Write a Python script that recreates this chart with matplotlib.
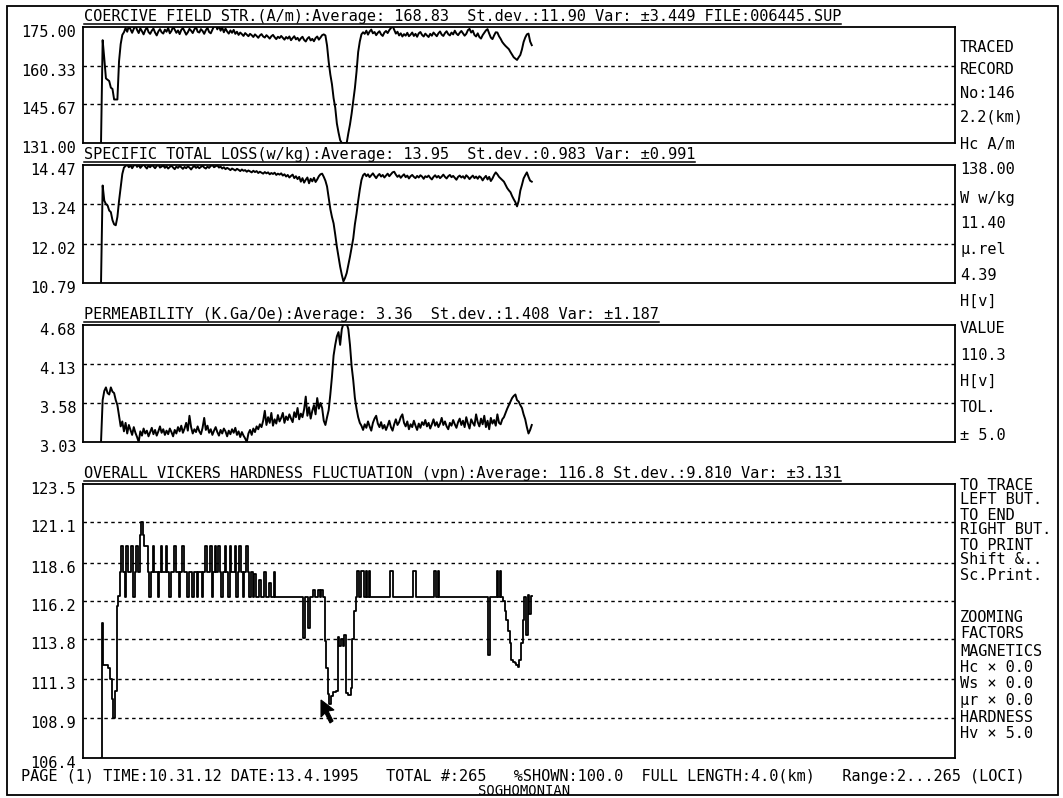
import matplotlib
matplotlib.use("Agg")
import matplotlib.pyplot as plt
from matplotlib.patches import Polygon, Rectangle
from matplotlib.lines import Line2D
from matplotlib.transforms import ScaledTranslation
import numpy as np

W, H = 1063, 798
FONT = "DejaVu Sans Mono"
FIRST_LOCUS = 2

# one value per locus, loci 2..265
coercive = [
    131.0, 170.0, 163.0, 155.5, 155.0, 154.5, 152.0, 151.5, 147.5, 147.5,
    147.5, 162.0, 168.5, 172.0, 173.0, 174.6, 173.2, 175.4, 174.1, 172.8,
    174.3, 175.6, 173.9, 172.7, 174.5, 173.4, 172.2, 173.8, 174.9, 173.1,
    172.4, 173.6, 174.4, 172.9, 171.8, 173.3, 174.2, 173.0, 172.5, 174.0,
    173.2, 174.7, 172.6, 173.5, 175.1, 174.0, 172.8, 173.7, 172.3, 173.9,
    174.6, 173.4, 172.1, 173.0, 174.3, 173.6, 172.7, 174.1, 175.0, 173.2,
    172.9, 174.2, 173.5, 172.4, 173.8, 174.7, 173.1, 172.6, 174.0, 175.3,
    175.8, 174.1, 175.5, 173.6, 174.8, 173.0, 174.4, 173.3, 172.5, 173.7,
    172.8, 173.9, 172.4, 173.2, 172.0, 172.9, 172.3, 171.6, 172.7, 172.1,
    171.5, 172.4, 171.9, 171.2, 172.2, 171.6, 170.9, 171.8, 172.3, 171.4,
    171.0, 171.9, 171.3, 170.6, 171.5, 172.0, 171.1, 170.4, 171.3, 170.8,
    171.6, 170.9, 170.2, 171.2, 170.6, 171.4, 170.0, 170.8, 171.5, 170.3,
    170.9, 169.8, 170.7, 171.3, 170.1, 169.5, 170.6, 171.2, 169.9, 170.5,
    169.6, 170.8, 171.4, 170.2, 171.0, 171.9, 172.2, 171.8, 168.0, 161.8,
    157.0, 153.3, 148.0, 144.4, 138.4, 135.0, 132.1, 131.0, 131.0, 131.0,
    131.0, 134.7, 138.0, 142.1, 147.0, 151.8, 158.0, 165.5, 169.5, 172.2,
    173.0, 172.4, 173.6, 172.1, 173.3, 174.0, 172.6, 173.1, 171.9, 172.8,
    173.4, 172.2, 171.6, 172.9, 173.5, 172.7, 173.8, 174.6, 175.4, 173.9,
    172.5, 173.2, 171.8, 172.6, 171.4, 172.3, 171.7, 172.8, 171.5, 172.1,
    172.9, 171.6, 172.4, 171.3, 172.6, 173.1, 172.0, 171.4, 172.5, 171.8,
    171.2, 172.4, 171.7, 172.9, 172.2, 171.5, 172.6, 173.3, 172.1, 171.6,
    172.7, 173.4, 172.3, 171.8, 172.9, 172.2, 173.6, 172.5, 171.9, 172.8,
    173.5, 172.6, 171.7, 172.4, 173.8, 174.3, 172.9, 173.6, 172.0, 171.4,
    172.6, 171.2, 170.6, 171.9, 172.8, 173.7, 174.2, 172.5, 171.0, 170.4,
    171.8, 173.0, 172.9, 171.5, 170.5, 169.3, 168.5, 167.8, 167.2, 166.6,
    165.5, 164.5, 163.5, 163.0, 162.5, 163.5, 164.4, 166.5, 169.3, 171.0,
    172.2, 172.5, 169.5, 168.1,
]

total_loss = [
    10.79, 13.83, 13.36, 13.25, 13.21, 13.05, 13.00, 12.75, 12.62, 12.59,
    12.85, 13.35, 13.77, 14.19, 14.39, 14.44, 14.48, 14.40, 14.46, 14.37,
    14.45, 14.50, 14.41, 14.47, 14.38, 14.44, 14.49, 14.42, 14.36, 14.45,
    14.40, 14.47, 14.43, 14.37, 14.44, 14.48, 14.39, 14.42, 14.46, 14.38,
    14.43, 14.36, 14.41, 14.45, 14.39, 14.34, 14.42, 14.38, 14.44, 14.40,
    14.35, 14.41, 14.37, 14.43, 14.39, 14.33, 14.40, 14.44, 14.38, 14.42,
    14.37, 14.41, 14.45, 14.39, 14.36, 14.42, 14.38, 14.44, 14.47, 14.40,
    14.43, 14.46, 14.39, 14.42, 14.36, 14.40, 14.34, 14.38, 14.35, 14.31,
    14.36, 14.33, 14.30, 14.35, 14.32, 14.28, 14.33, 14.29, 14.31, 14.26,
    14.30, 14.27, 14.24, 14.29, 14.25, 14.28, 14.22, 14.26, 14.23, 14.20,
    14.25, 14.21, 14.24, 14.18, 14.22, 14.19, 14.23, 14.16, 14.20, 14.17,
    14.21, 14.14, 14.18, 14.11, 14.16, 14.08, 14.13, 14.17, 14.06, 14.12,
    14.03, 14.10, 13.95, 14.06, 13.92, 14.01, 14.08, 13.90, 14.04, 13.96,
    14.07, 13.94, 14.02, 14.12, 14.18, 14.20, 14.10, 13.98, 13.80, 13.45,
    13.10, 12.85, 12.65, 12.30, 11.92, 11.62, 11.30, 11.05, 10.84, 10.95,
    11.10, 11.35, 11.61, 11.90, 12.18, 12.62, 12.95, 13.35, 13.70, 14.00,
    14.15, 14.20, 14.12, 14.18, 14.09, 14.15, 14.21, 14.13, 14.06, 14.14,
    14.19, 14.11, 14.16, 14.08, 14.14, 14.20, 14.12, 14.18, 14.24, 14.26,
    14.17, 14.10, 14.15, 14.07, 14.13, 14.18, 14.09, 14.14, 14.05, 14.12,
    14.16, 14.10, 14.06, 14.13, 14.08, 14.15, 14.11, 14.04, 14.12, 14.09,
    14.14, 14.07, 14.02, 14.10, 14.15, 14.08, 14.13, 14.06, 14.11, 14.17,
    14.10, 14.05, 14.12, 14.16, 14.09, 14.13, 14.07, 14.01, 14.10, 14.14,
    14.08, 14.12, 14.05, 14.15, 14.10, 14.03, 14.09, 14.14, 14.06, 14.11,
    14.04, 14.12, 14.08, 13.99, 14.07, 14.13, 14.02, 14.10, 13.97, 14.05,
    14.16, 14.24, 14.18, 14.10, 14.05, 14.00, 13.95, 13.85, 13.75, 13.68,
    13.62, 13.50, 13.40, 13.31, 13.18, 13.35, 13.67, 13.85, 14.05, 14.15,
    14.24, 14.10, 13.98, 13.95,
]

permeability = [
    3.03, 3.62, 3.75, 3.80, 3.72, 3.70, 3.80, 3.74, 3.72, 3.62,
    3.55, 3.40, 3.25, 3.32, 3.18, 3.30, 3.15, 3.27, 3.20, 3.13,
    3.24, 3.16, 3.10, 3.03, 3.18, 3.12, 3.22, 3.15, 3.19, 3.11,
    3.17, 3.23, 3.14, 3.20, 3.12, 3.18, 3.25, 3.16, 3.21, 3.13,
    3.19, 3.14, 3.22, 3.17, 3.11, 3.20, 3.15, 3.24, 3.18, 3.26,
    3.16, 3.22, 3.30, 3.19, 3.40, 3.24, 3.15, 3.21, 3.17, 3.25,
    3.18, 3.14, 3.23, 3.37, 3.20, 3.26, 3.16, 3.21, 3.13, 3.19,
    3.24, 3.17, 3.12, 3.20, 3.15, 3.22, 3.18, 3.11, 3.19, 3.14,
    3.21, 3.16, 3.23, 3.13, 3.18, 3.10, 3.17, 3.12, 3.08, 3.03,
    3.15, 3.20, 3.13, 3.22, 3.17, 3.25, 3.21, 3.28, 3.24, 3.33,
    3.47, 3.27, 3.38, 3.30, 3.44, 3.26, 3.35, 3.29, 3.41, 3.32,
    3.37, 3.44, 3.30, 3.39, 3.34, 3.42, 3.36, 3.31, 3.45, 3.38,
    3.51, 3.35, 3.43, 3.38, 3.49, 3.67, 3.40, 3.52, 3.36, 3.47,
    3.55, 3.42, 3.65, 3.50, 3.58, 3.51, 3.33, 3.27, 3.38, 3.48,
    3.70, 3.95, 4.25, 4.40, 4.52, 4.58, 4.40, 4.62, 4.70, 4.72,
    4.70, 4.62, 4.40, 4.10, 3.90, 3.65, 3.50, 3.38, 3.30, 3.26,
    3.20, 3.28, 3.23, 3.32, 3.25, 3.19, 3.30, 3.36, 3.40, 3.29,
    3.24, 3.31, 3.22, 3.27, 3.20, 3.26, 3.33, 3.24, 3.19, 3.28,
    3.35, 3.27, 3.31, 3.38, 3.42, 3.30, 3.25, 3.32, 3.21, 3.28,
    3.24, 3.33, 3.26, 3.20, 3.29, 3.23, 3.31, 3.27, 3.34, 3.25,
    3.30, 3.22, 3.28, 3.35, 3.26, 3.31, 3.24, 3.29, 3.37, 3.27,
    3.32, 3.25, 3.21, 3.30, 3.26, 3.34, 3.28, 3.23, 3.31, 3.36,
    3.27, 3.33, 3.24, 3.38, 3.29, 3.22, 3.35, 3.30, 3.26, 3.42,
    3.31, 3.25, 3.36, 3.28, 3.40, 3.24, 3.33, 3.21, 3.37, 3.29,
    3.34, 3.26, 3.42, 3.30, 3.28, 3.35, 3.38, 3.44, 3.50, 3.55,
    3.60, 3.65, 3.68, 3.70, 3.62, 3.60, 3.55, 3.51, 3.42, 3.35,
    3.24, 3.15, 3.20, 3.27,
]

hardness = [
    106.4, 114.8, 112.2, 112.2, 112.2, 112.0, 111.3, 110.1, 108.9, 110.6,
    115.9, 116.5, 118.0, 119.65, 118.0, 116.45, 119.65, 118.0, 118.0, 119.65,
    116.45, 118.0, 119.65, 118.0, 120.3, 121.1, 120.3, 119.65, 119.65, 118.0,
    116.45, 118.0, 119.65, 118.0, 118.0, 116.45, 118.0, 119.65, 118.0, 118.0,
    119.65, 118.0, 116.45, 118.0, 118.0, 119.65, 118.0, 118.0, 116.45, 118.0,
    119.65, 118.0, 118.0, 116.45, 118.0, 118.0, 116.45, 118.0, 118.0, 116.45,
    118.0, 118.0, 116.45, 118.0, 119.65, 118.0, 118.0, 119.65, 116.45, 118.0,
    119.65, 118.0, 119.65, 118.0, 116.45, 118.0, 119.65, 118.0, 116.45, 119.65,
    118.0, 118.0, 119.65, 116.45, 118.0, 119.65, 118.0, 116.45, 118.0, 119.65,
    118.0, 116.45, 118.0, 116.45, 117.9, 116.45, 116.45, 117.5, 116.45, 116.45,
    118.0, 116.45, 116.45, 117.3, 116.45, 116.45, 118.0, 116.45, 116.45, 116.45,
    116.45, 116.45, 116.45, 116.45, 116.45, 116.45, 116.45, 116.45, 116.45, 116.45,
    116.45, 116.45, 116.45, 116.45, 113.9, 116.45, 116.45, 114.5, 116.45, 116.45,
    116.9, 116.45, 116.45, 116.9, 116.45, 116.9, 116.45, 113.7, 112.0, 110.4,
    109.8, 110.3, 110.5, 110.5, 110.6, 113.95, 113.4, 113.8, 113.4, 114.05,
    110.45, 110.35, 110.35, 110.75, 113.8, 115.6, 116.45, 118.1, 116.45, 118.1,
    118.1, 116.45, 118.1, 116.45, 118.1, 116.45, 116.45, 116.45, 116.45, 116.45,
    116.45, 116.45, 116.45, 116.45, 116.45, 116.45, 116.45, 118.1, 118.1, 116.45,
    116.45, 116.45, 116.45, 116.45, 116.45, 116.45, 116.45, 116.45, 116.45, 116.45,
    116.45, 118.1, 118.1, 116.45, 116.45, 116.45, 116.45, 116.45, 116.45, 116.45,
    116.45, 116.45, 116.45, 116.45, 118.1, 116.45, 118.1, 116.45, 116.45, 116.45,
    116.45, 116.45, 116.45, 116.45, 116.45, 116.45, 116.45, 116.45, 116.45, 116.45,
    116.45, 116.45, 116.45, 116.45, 116.45, 116.45, 116.45, 116.45, 116.45, 116.45,
    116.45, 116.45, 116.45, 116.45, 116.45, 116.45, 116.45, 112.8, 116.45, 116.45,
    116.45, 116.45, 118.1, 116.45, 118.1, 116.45, 116.2, 115.6, 115.0, 114.3,
    113.6, 112.5, 112.4, 112.3, 112.2, 112.1, 112.5, 113.6, 115.0, 116.45,
    114.1, 116.6, 115.4, 116.5,
]

panels = [
    dict(data=coercive, top=27, bottom=143, ylim=(131.0, 175.0),
         ticks=[131.00, 145.67, 160.33, 175.00], fmt="%.2f", steps=False, lw=1.4,
         title="COERCIVE FIELD STR.(A/m):Average: 168.83  St.dev.:11.90 Var: ±3.449 FILE:006445.SUP"),
    dict(data=total_loss, top=165, bottom=283, ylim=(10.79, 14.47),
         ticks=[10.79, 12.02, 13.24, 14.47], fmt="%.2f", steps=False, lw=1.4,
         title="SPECIFIC TOTAL LOSS(w/kg):Average: 13.95  St.dev.:0.983 Var: ±0.991"),
    dict(data=permeability, top=325, bottom=442, ylim=(3.03, 4.68),
         ticks=[3.03, 3.58, 4.13, 4.68], fmt="%.2f", steps=False, lw=1.4,
         title="PERMEABILITY (K.Ga/Oe):Average: 3.36  St.dev.:1.408 Var: ±1.187"),
    dict(data=hardness, top=484, bottom=758, ylim=(106.4, 123.5),
         ticks=[106.4, 108.9, 111.3, 113.8, 116.2, 118.6, 121.1, 123.5], fmt="%.1f", steps=True, lw=1.3,
         title="OVERALL VICKERS HARDNESS FLUCTUATION (vpn):Average: 116.8 St.dev.:9.810 Var: ±3.131"),
]

side_text = [
    ("TRACED", 48), ("RECORD", 70), ("No:146", 94), ("2.2(km)", 117), ("Hc A/m", 144),
    ("138.00", 169), ("W w/kg", 198), ("11.40", 224), ("μ.rel", 250), ("4.39", 275), ("H[v]", 301),
    ("VALUE", 329), ("110.3", 355), ("H[v]", 381), ("TOL.", 408), ("± 5.0", 435),
    ("TO TRACE", 485), ("LEFT BUT.", 500), ("TO END", 515), ("RIGHT BUT.", 530),
    ("TO PRINT", 545), ("Shift &..", 560), ("Sc.Print.", 575),
    ("ZOOMING", 618), ("FACTORS", 633), ("MAGNETICS", 651), ("Hc × 0.0", 668),
    ("Ws × 0.0", 684), ("μr × 0.0", 700), ("HARDNESS", 717), ("Hv × 5.0", 733),
]

footer = ("PAGE (1) TIME:10.31.12 DATE:13.4.1995   TOTAL #:265   "
          "%SHOWN:100.0  FULL LENGTH:4.0(km)   Range:2...265 (LOCI)")


def fx(px):
    return px / W


def fy(py):
    return 1 - py / H


fig = plt.figure(figsize=(W / 100, H / 100), dpi=100)
fig.patch.set_facecolor("white")

AX_L, AX_R = 83, 955
x_lim = (-9.0, 523.4)

for p in panels:
    ax = fig.add_axes([fx(AX_L), fy(p["bottom"]), fx(AX_R - AX_L), (p["bottom"] - p["top"]) / H])
    x = np.arange(FIRST_LOCUS, FIRST_LOCUS + len(p["data"]))
    ax.plot(x, p["data"], color="black", lw=p["lw"],
            drawstyle="steps-mid" if p["steps"] else "default")
    ax.set_xlim(*x_lim)
    ax.set_ylim(*p["ylim"])
    ax.set_xticks([])
    ax.set_yticks(p["ticks"])
    ax.set_yticklabels([p["fmt"] % t for t in p["ticks"]], family=FONT, fontsize=11)
    ax.tick_params(axis="y", length=0, pad=5)
    for lab in ax.get_yticklabels():
        lab.set_transform(lab.get_transform() + ScaledTranslation(0, -4 / 100, fig.dpi_scale_trans))
    for t in p["ticks"][1:-1]:
        ax.axhline(t, color="black", lw=1.0, ls=(0, (2.5, 2.5)))
    for s in ax.spines.values():
        s.set_linewidth(1.3)

    p["title_artist"] = fig.text(fx(84), fy(p["top"] - 6), p["title"], family=FONT,
                                 fontsize=11, ha="left", va="baseline")

fig.canvas.draw()
renderer = fig.canvas.get_renderer()
for p in panels:
    bb = p["title_artist"].get_window_extent(renderer)
    fig.add_artist(Line2D([fx(84), fx(84) + bb.width / W], [fy(p["top"] - 3)] * 2,
                          color="black", lw=1.1, transform=fig.transFigure))

for s, y in side_text:
    fig.text(fx(960), fy(y), s, family=FONT, fontsize=11, ha="left", va="center")

fig.text(fx(21), fy(777), footer, family=FONT, fontsize=11, ha="left", va="center")
fig.text(fx(478), fy(791), "SOGHOMONIAN", family=FONT, fontsize=10, ha="left", va="center")

# outer frame
fig.add_artist(Rectangle((fx(7), fy(795)), fx(1058 - 7), (795 - 6) / H, fill=False,
                         lw=1.3, edgecolor="black", transform=fig.transFigure))

# mouse cursor left on the screen dump
cursor_px = [(321, 700), (321, 717), (325, 713), (330, 723), (333, 721), (328, 711), (334, 710)]
fig.add_artist(Polygon([(fx(a), fy(b)) for a, b in cursor_px], closed=True,
                       facecolor="black", edgecolor="black", lw=0.8, transform=fig.transFigure))

fig.savefig("out.png", dpi=100, facecolor="white")
